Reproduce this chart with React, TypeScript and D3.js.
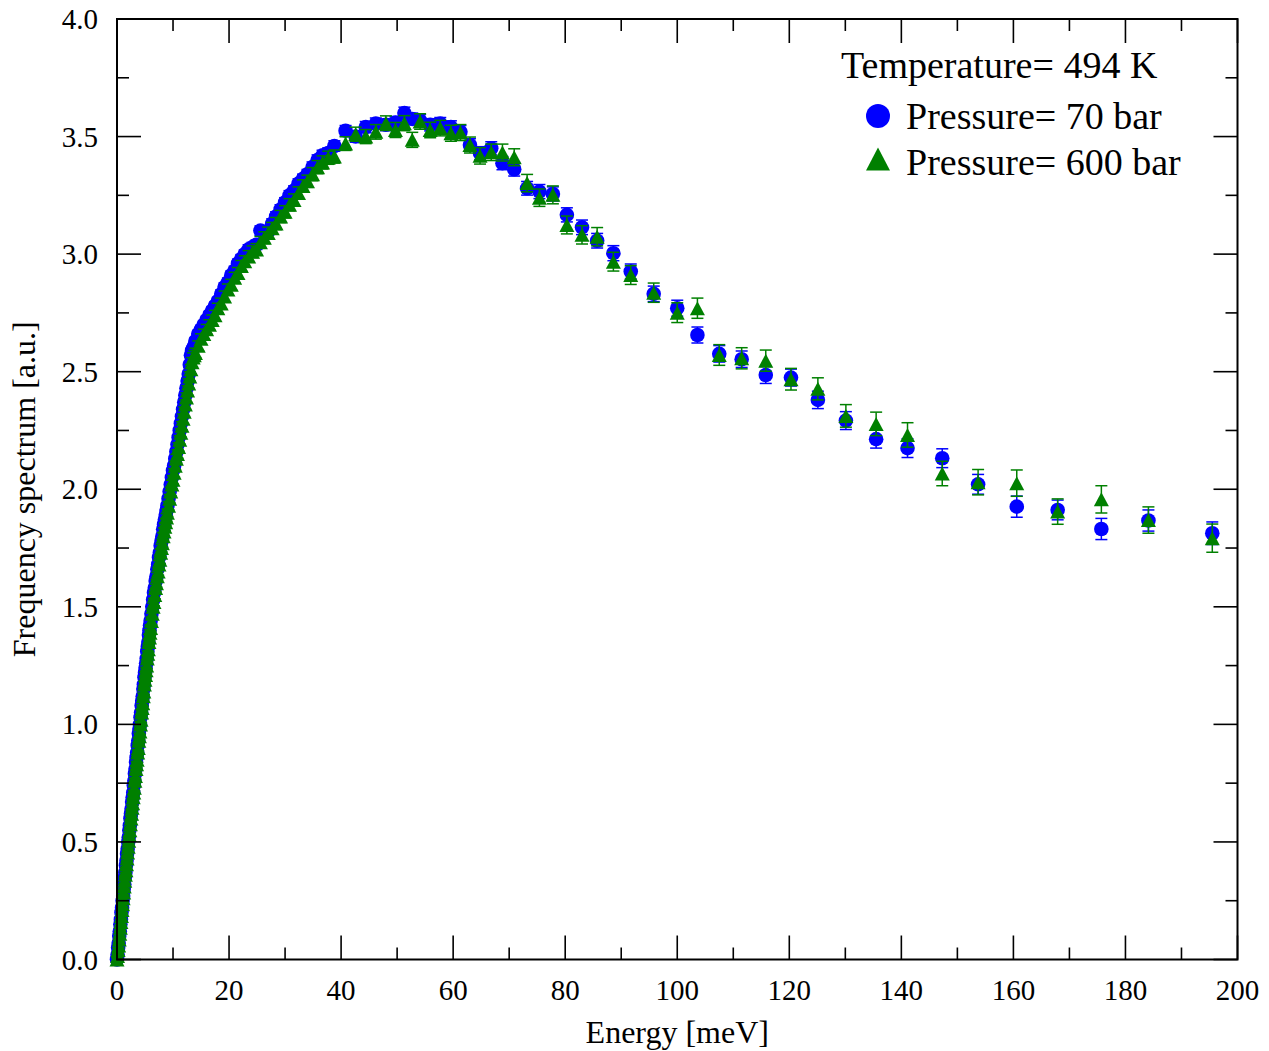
import React from "react";
import * as d3 from "d3";

const energy = [
  0.0, 0.1, 0.2, 0.3, 0.4, 0.5, 0.6, 0.7, 0.8, 0.9, 1.0, 1.1, 1.2, 1.3, 1.4, 1.5,
  1.6, 1.7, 1.8, 1.9, 2.0, 2.1, 2.2, 2.3, 2.4, 2.5, 2.6, 2.7, 2.8, 2.9, 3.0,
  3.1, 3.2, 3.3, 3.4, 3.5, 3.6, 3.7, 3.8, 3.9, 4.0, 4.1, 4.2, 4.3, 4.4, 4.5,
  4.6, 4.7, 4.8, 4.9, 5.0, 5.1, 5.2, 5.3, 5.4, 5.5, 5.6, 5.7, 5.8, 5.9, 6.0,
  6.15, 6.3, 6.45, 6.6, 6.75, 6.9, 7.05, 7.2, 7.35, 7.5,
  7.65, 7.8, 7.95, 8.1, 8.25, 8.4, 8.55, 8.7, 8.85, 9.0,
  9.2, 9.4, 9.6, 9.8, 10.0, 10.2, 10.4, 10.6, 10.8, 11.0, 11.2, 11.4, 11.6,
  11.8, 12.0, 12.2, 12.4, 12.6, 12.8, 13.0, 13.2, 13.4, 13.6, 13.8, 14.0,
  14.5, 15.0, 15.5, 16.0, 16.5, 17.0, 17.5, 18.0,
  18.6, 19.2, 19.8, 20.4, 21.0, 21.6, 22.2, 22.8,
  23.5, 24.2, 24.9, 25.6, 26.3, 27.0, 27.7,
  28.4, 29.2, 30.0, 30.8, 31.6, 32.4, 33.2, 34.0,
  34.9, 35.8, 36.7, 37.7,
  38.8, 40.8, 42.6, 44.4, 46.2, 48.0, 49.7, 51.3, 52.7, 54.1, 55.9, 57.7, 59.6, 61.3,
  63.0, 64.8, 66.8, 68.8, 70.9, 73.2, 75.4, 77.8, 80.3, 83.0,
  85.7, 88.6, 91.7, 95.8, 100.0, 103.6, 107.5, 111.5, 115.8, 120.3,
  125.1, 130.1, 135.5, 141.1, 147.3, 153.7, 160.6, 167.9, 175.7, 184.1, 195.5,
];

const p70Values = [
  0.0, 0.02, 0.05, 0.07, 0.1, 0.12, 0.15, 0.17, 0.2, 0.22, 0.25, 0.27, 0.3, 0.32, 0.35, 0.37,
  0.4, 0.42, 0.45, 0.47, 0.5, 0.52, 0.55, 0.57, 0.6, 0.62, 0.64, 0.67, 0.69, 0.71, 0.74,
  0.76, 0.79, 0.81, 0.84, 0.86, 0.88, 0.91, 0.93, 0.96, 0.98, 1.0, 1.03, 1.05, 1.08, 1.1,
  1.12, 1.15, 1.17, 1.2, 1.22, 1.24, 1.26, 1.28, 1.31, 1.33, 1.35, 1.38, 1.4, 1.42, 1.44,
  1.47, 1.5, 1.53, 1.56, 1.58, 1.61, 1.63, 1.66, 1.68, 1.71,
  1.73, 1.76, 1.78, 1.8, 1.83, 1.85, 1.87, 1.89, 1.91, 1.93,
  1.96, 1.99, 2.02, 2.05, 2.08, 2.1, 2.13, 2.16, 2.19, 2.22, 2.25, 2.28, 2.31,
  2.34, 2.37, 2.4, 2.43, 2.46, 2.49, 2.53, 2.57, 2.59, 2.6, 2.61, 2.63,
  2.66, 2.68, 2.7, 2.72, 2.74, 2.76, 2.78, 2.8,
  2.83, 2.86, 2.88, 2.91, 2.93, 2.96, 2.98, 3.0,
  3.02, 3.03, 3.04, 3.1, 3.09, 3.1, 3.13,
  3.16, 3.19, 3.22, 3.25, 3.27, 3.3, 3.32, 3.34,
  3.37, 3.4, 3.42, 3.43,
  3.46, 3.525, 3.5, 3.54, 3.555, 3.55, 3.56, 3.6, 3.575, 3.568, 3.55, 3.555, 3.54, 3.52,
  3.464, 3.429, 3.45, 3.387, 3.361, 3.28, 3.266, 3.256, 3.167, 3.114,
  3.057, 3.004, 2.926, 2.831, 2.77, 2.656, 2.576, 2.553, 2.486, 2.475,
  2.38, 2.292, 2.213, 2.175, 2.132, 2.021, 1.926, 1.912, 1.831, 1.867, 1.813,
];

const p70Errors = [
  0.008, 0.008, 0.008, 0.008, 0.008, 0.008, 0.008, 0.008, 0.008, 0.008, 0.008, 0.008, 0.008, 0.008, 0.008, 0.008,
  0.008, 0.008, 0.008, 0.008, 0.008, 0.008, 0.008, 0.008, 0.008, 0.008, 0.008, 0.008, 0.008, 0.008, 0.008,
  0.01, 0.01, 0.01, 0.01, 0.01, 0.01, 0.01, 0.01, 0.01, 0.01, 0.01, 0.01, 0.01, 0.01, 0.01,
  0.01, 0.01, 0.01, 0.01, 0.01, 0.01, 0.01, 0.01, 0.01, 0.01, 0.01, 0.01, 0.01, 0.01, 0.01,
  0.012, 0.012, 0.012, 0.012, 0.012, 0.012, 0.012, 0.012, 0.012, 0.012,
  0.012, 0.012, 0.012, 0.012, 0.012, 0.012, 0.012, 0.012, 0.012, 0.012,
  0.014, 0.014, 0.014, 0.014, 0.014, 0.014, 0.014, 0.014, 0.014, 0.014, 0.014, 0.014, 0.014,
  0.015, 0.015, 0.015, 0.015, 0.015, 0.015, 0.015, 0.015, 0.015, 0.015, 0.015, 0.015,
  0.016, 0.016, 0.016, 0.016, 0.016, 0.016, 0.016, 0.016,
  0.018, 0.018, 0.018, 0.018, 0.018, 0.018, 0.018, 0.018,
  0.02, 0.02, 0.02, 0.02, 0.02, 0.02, 0.02,
  0.02, 0.02, 0.02, 0.02, 0.02, 0.02, 0.02, 0.02,
  0.022, 0.022, 0.022, 0.022,
  0.022, 0.022, 0.024, 0.024, 0.024, 0.025, 0.025, 0.025, 0.025, 0.026, 0.026, 0.026, 0.027, 0.027,
  0.027, 0.028, 0.028, 0.028, 0.029, 0.029, 0.03, 0.03, 0.03, 0.031,
  0.031, 0.032, 0.032, 0.033, 0.034, 0.034, 0.035, 0.035, 0.036, 0.036,
  0.037, 0.038, 0.038, 0.04, 0.04, 0.042, 0.045, 0.042, 0.045, 0.045, 0.048,
];

const p600Values = [
  0.0, 0.015, 0.04, 0.06, 0.085, 0.11, 0.135, 0.16, 0.185, 0.21, 0.235, 0.26, 0.285, 0.31, 0.335, 0.36,
  0.38, 0.405, 0.43, 0.455, 0.48, 0.505, 0.53, 0.55, 0.575, 0.6, 0.62, 0.645, 0.665, 0.69, 0.71,
  0.73, 0.76, 0.78, 0.81, 0.83, 0.85, 0.88, 0.9, 0.93, 0.95, 0.97, 1.0, 1.02, 1.05, 1.07,
  1.09, 1.12, 1.14, 1.17, 1.19, 1.21, 1.23, 1.25, 1.28, 1.3, 1.32, 1.35, 1.37, 1.39, 1.41,
  1.44, 1.47, 1.5, 1.52, 1.55, 1.58, 1.6, 1.63, 1.65, 1.68,
  1.7, 1.73, 1.75, 1.77, 1.8, 1.82, 1.84, 1.86, 1.88, 1.9,
  1.93, 1.96, 1.99, 2.02, 2.04, 2.07, 2.1, 2.13, 2.15, 2.18, 2.21, 2.24, 2.27,
  2.3, 2.33, 2.36, 2.39, 2.42, 2.45, 2.48, 2.51, 2.54, 2.56, 2.57, 2.58,
  2.61, 2.64, 2.66, 2.68, 2.7, 2.72, 2.74, 2.77,
  2.79, 2.82, 2.85, 2.87, 2.9, 2.92, 2.95, 2.97,
  2.99, 3.01, 3.02, 3.05, 3.07, 3.09, 3.11,
  3.13, 3.16, 3.18, 3.21, 3.23, 3.26, 3.29, 3.31,
  3.34, 3.37, 3.39, 3.41,
  3.415, 3.47, 3.51, 3.5, 3.52, 3.557, 3.528, 3.557, 3.486, 3.564, 3.528, 3.536, 3.514, 3.517,
  3.464, 3.418, 3.433, 3.432, 3.412, 3.302, 3.24, 3.252, 3.124, 3.082,
  3.074, 2.968, 2.911, 2.836, 2.751, 2.77, 2.571, 2.557, 2.547, 2.468,
  2.427, 2.312, 2.278, 2.231, 2.067, 2.03, 2.026, 1.905, 1.957, 1.869, 1.792,
];

const p600Errors = [
  0.01, 0.01, 0.01, 0.01, 0.01, 0.01, 0.01, 0.01, 0.01, 0.01, 0.01, 0.01, 0.01, 0.01, 0.01, 0.01,
  0.01, 0.01, 0.01, 0.01, 0.01, 0.01, 0.01, 0.01, 0.01, 0.01, 0.01, 0.01, 0.01, 0.01, 0.01,
  0.013, 0.013, 0.013, 0.013, 0.013, 0.013, 0.013, 0.013, 0.013, 0.013, 0.013, 0.013, 0.013, 0.013, 0.013,
  0.013, 0.013, 0.013, 0.013, 0.013, 0.013, 0.013, 0.013, 0.013, 0.013, 0.013, 0.013, 0.013, 0.013, 0.013,
  0.016, 0.016, 0.016, 0.016, 0.016, 0.016, 0.016, 0.016, 0.016, 0.016,
  0.016, 0.016, 0.016, 0.016, 0.016, 0.016, 0.016, 0.016, 0.016, 0.016,
  0.018, 0.018, 0.018, 0.018, 0.018, 0.018, 0.018, 0.018, 0.018, 0.018, 0.018, 0.018, 0.018,
  0.02, 0.02, 0.02, 0.02, 0.02, 0.02, 0.02, 0.02, 0.02, 0.02, 0.02, 0.02,
  0.021, 0.021, 0.021, 0.021, 0.021, 0.021, 0.021, 0.021,
  0.023, 0.023, 0.023, 0.023, 0.023, 0.023, 0.023, 0.023,
  0.025, 0.025, 0.025, 0.025, 0.025, 0.025, 0.025,
  0.026, 0.026, 0.026, 0.026, 0.026, 0.026, 0.026, 0.026,
  0.028, 0.028, 0.028, 0.028,
  0.028, 0.029, 0.03, 0.03, 0.031, 0.031, 0.032, 0.032, 0.032, 0.033, 0.033, 0.033, 0.034, 0.034,
  0.034, 0.035, 0.035, 0.036, 0.036, 0.037, 0.037, 0.038, 0.038, 0.039,
  0.039, 0.04, 0.04, 0.041, 0.042, 0.043, 0.044, 0.045, 0.045, 0.046,
  0.047, 0.048, 0.05, 0.052, 0.052, 0.054, 0.056, 0.054, 0.058, 0.056, 0.06,
];

const xTickValues = [0, 20, 40, 60, 80, 100, 120, 140, 160, 180, 200];
const yTickValues = [0, 0.5, 1.0, 1.5, 2.0, 2.5, 3.0, 3.5, 4.0];
const legendTitle = "Temperature= 494 K";
const seriesLabels = ["Pressure= 70 bar", "Pressure= 600 bar"];

const W = 1269;
const H = 1051;
const L = 117, R = 1237.5, T = 19, B = 959.5;
const FONT = "'Liberation Serif', 'Times New Roman', Times, serif";
const BLUE = "#0000ff";
const GREEN = "#008000";

export default function App() {
  const x = d3.scaleLinear().domain([0, 200]).range([L, R]);
  const y = d3.scaleLinear().domain([0, 4]).range([B, T]);

  const xMinor = d3.range(0, 201, 10);
  const yMinor = d3.range(0, 4.01, 0.25);
  const majLen = 24;
  const minLen = 12;

  const p70 = energy.map((e, i) => ({ e, v: p70Values[i], err: p70Errors[i] }));
  const p600 = energy.map((e, i) => ({ e, v: p600Values[i], err: p600Errors[i] }));

  const cap = 6;
  const triW = 15, triH = 14;
  const tri = (cx: number, cy: number, w: number, h: number) =>
    `M${cx},${cy - h / 2}L${cx + w / 2},${cy + h / 2}L${cx - w / 2},${cy + h / 2}Z`;

  const errBars = (data: { e: number; v: number; err: number }[], color: string) =>
    data.map((d, i) => {
      const cx = x(d.e);
      const y1 = y(d.v + d.err);
      const y2 = y(d.v - d.err);
      return (
        <g key={i} stroke={color} strokeWidth={1.5}>
          <line x1={cx} x2={cx} y1={y1} y2={y2} />
          <line x1={cx - cap} x2={cx + cap} y1={y1} y2={y1} />
          <line x1={cx - cap} x2={cx + cap} y1={y2} y2={y2} />
        </g>
      );
    });

  return (
    <svg width={W} height={H} style={{ position: "absolute", left: 0, top: 0, background: "#fff" }}
      fontFamily={FONT}>
      <rect x={0} y={0} width={W} height={H} fill="#fff" />
      {/* blue series */}
      <g>{errBars(p70, BLUE)}</g>
      <g>
        {p70.map((d, i) => (
          <circle key={i} cx={x(d.e)} cy={y(d.v)} r={7.3} fill={BLUE} />
        ))}
      </g>
      {/* green series */}
      <g>{errBars(p600, GREEN)}</g>
      <g>
        {p600.map((d, i) => (
          <path key={i} d={tri(x(d.e), y(d.v), triW, triH)} fill={GREEN} />
        ))}
      </g>

      {/* frame */}
      <rect x={L} y={T} width={R - L} height={B - T} fill="none" stroke="#000" strokeWidth={2} />
      {/* ticks */}
      <g stroke="#000" strokeWidth={1.6}>
        {xMinor.map((v) => {
          const len = v % 20 === 0 ? majLen : minLen;
          return (
            <g key={"xt" + v}>
              <line x1={x(v)} x2={x(v)} y1={B} y2={B - len} />
              <line x1={x(v)} x2={x(v)} y1={T} y2={T + len} />
            </g>
          );
        })}
        {yMinor.map((v, i) => {
          const len = i % 2 === 0 ? majLen : minLen;
          return (
            <g key={"yt" + i}>
              <line x1={L} x2={L + len} y1={y(v)} y2={y(v)} />
              <line x1={R} x2={R - len} y1={y(v)} y2={y(v)} />
            </g>
          );
        })}
      </g>
      {/* tick labels */}
      <g fontSize={29} fill="#000">
        {xTickValues.map((v) => (
          <text key={"xl" + v} x={x(v)} y={1000} textAnchor="middle">{v}</text>
        ))}
        {yTickValues.map((v) => (
          <text key={"yl" + v} x={98} y={y(v) + 10} textAnchor="end">{v.toFixed(1)}</text>
        ))}
      </g>
      <text x={(L + R) / 2} y={1043} textAnchor="middle" fontSize={32}>Energy [meV]</text>
      <text transform={`translate(35,${(T + B) / 2}) rotate(-90)`} textAnchor="middle" fontSize={32}>
        Frequency spectrum [a.u.]
      </text>

      {/* legend */}
      <text x={841} y={78} fontSize={38}>{legendTitle}</text>
      <circle cx={878} cy={116} r={12} fill={BLUE} />
      <text x={906} y={129} fontSize={38}>{seriesLabels[0]}</text>
      <path d={tri(878, 159, 24, 23)} fill={GREEN} />
      <text x={906} y={175} fontSize={38}>{seriesLabels[1]}</text>
    </svg>
  );
}
